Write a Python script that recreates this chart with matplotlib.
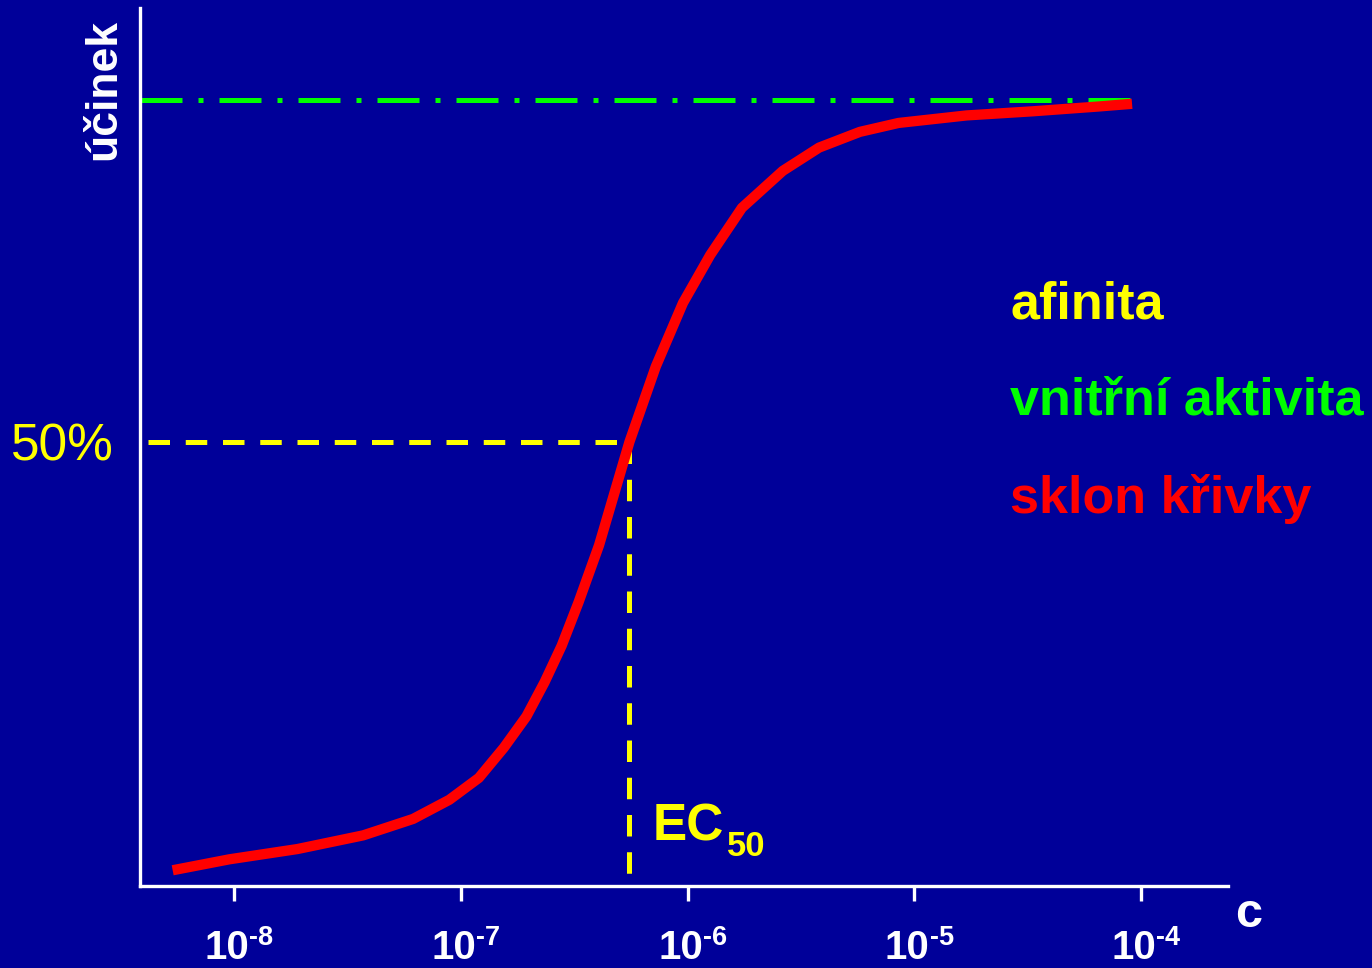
import numpy as np
import matplotlib
matplotlib.use("Agg")
import matplotlib.pyplot as plt
from matplotlib.ticker import NullLocator

# dose-response curve (log10 of concentration, effect in %)
log_c = [-8.27, -8.02, -7.72, -7.43, -7.21, -7.05, -6.92, -6.81, -6.71, -6.63,
         -6.555, -6.48, -6.39, -6.256, -6.14, -6.02, -5.90, -5.76, -5.58, -5.42,
         -5.24, -5.07, -4.77, -4.48, -4.19, -4.04]
effect = [-12.6, -11.0, -9.5, -7.5, -5.1, -2.3, 0.9, 5.3, 9.9, 14.9,
          20.2, 26.6, 34.9, 50.0, 61.0, 70.3, 77.3, 84.2, 89.6, 93.0,
          95.3, 96.6, 97.7, 98.3, 99.0, 99.4]

ec50_log = -6.256
emax = 100
half = 50
xlim_log = (-8.414, -3.617)
ylim = (-14.9, 113.4)
tick_exps = [-8, -7, -6, -5, -4]
legend_items = [("afinita", "#ffff00"),
                ("vnitřní aktivita", "#00ff00"),
                ("sklon křivky", "#ff0000")]

bg = "#000099"
plt.rcParams["font.family"] = ["Liberation Sans", "DejaVu Sans"]

W, H = 1372, 968
fig = plt.figure(figsize=(W / 100, H / 100), dpi=100, facecolor=bg)
ax = fig.add_axes([140 / W, 82 / H, 1088 / W, 878 / H])
ax.set_facecolor(bg)

conc = 10 ** np.array(log_c)
ax.set_xscale("log")
ax.set_xlim(10 ** xlim_log[0], 10 ** xlim_log[1])
ax.set_ylim(*ylim)

# top line (intrinsic activity)
ax.plot([10 ** xlim_log[0], conc[-1]], [emax, emax], color="#00ff00", lw=3.6,
        dashes=(8.4, 3.2, 1.0, 3.2))
# 50% guides
ec50 = 10 ** ec50_log
ax.plot([10 ** -8.38, ec50], [half, half], color="#ffff00", lw=3.6, dashes=(4.3, 3.15))
ax.plot([ec50, ec50], [half, ylim[0]], color="#ffff00", lw=3.6, dashes=(4.3, 3.15))

ax.plot(conc, effect, color="#ff0000", lw=7.4, solid_capstyle="butt",
        solid_joinstyle="round")

for s in ["top", "right"]:
    ax.spines[s].set_visible(False)
for s in ["left", "bottom"]:
    ax.spines[s].set_color("white")
    ax.spines[s].set_linewidth(2.4)

ax.xaxis.set_minor_locator(NullLocator())
ax.set_xticks([10.0 ** e for e in tick_exps])
ax.tick_params(axis="x", direction="out", length=11, width=2.4, color="white",
               labelbottom=False)
ax.set_yticks([half])
ax.set_yticklabels(["50%"])
ax.tick_params(axis="y", length=0, pad=19, labelsize=37, labelcolor="#ffff00")

for e in tick_exps:
    ax.annotate("10", xy=(10.0 ** e, 0), xycoords=("data", "axes fraction"),
                xytext=(11, -52.5), textcoords="offset points", ha="right",
                va="baseline", fontsize=29, fontweight="bold", color="white")
    ax.annotate(str(e), xy=(10.0 ** e, 0),
                xycoords=("data", "axes fraction"), xytext=(11, -28),
                textcoords="offset points", ha="left", va="top", fontsize=19.5,
                fontweight="bold", color="white")

ec = ax.annotate("EC", xy=(ec50, ylim[0]), xytext=(17, 33), textcoords="offset points",
                 ha="left", va="baseline", fontsize=37, fontweight="bold",
                 color="#ffff00")
ax.annotate("50", xy=(1, 0), xycoords=ec, xytext=(2, -3.7), textcoords="offset points",
            ha="left", va="baseline", fontsize=25, fontweight="bold", color="#ffff00")

fig.text(1235 / W, 1 - 927 / H, "c", fontsize=35, fontweight="bold", color="white",
         ha="left", va="baseline")
fig.text(115 / W, 1 - 90 / H, "účinek", fontsize=32, fontweight="bold", color="white",
         rotation=90, rotation_mode="anchor", ha="center", va="baseline")

for (label, col), base in zip(legend_items, [318, 415, 513]):
    fig.text(1010 / W, 1 - base / H, label, fontsize=37.5, fontweight="bold",
             color=col, ha="left", va="baseline")

fig.savefig("out.png", dpi=100, facecolor=bg)
